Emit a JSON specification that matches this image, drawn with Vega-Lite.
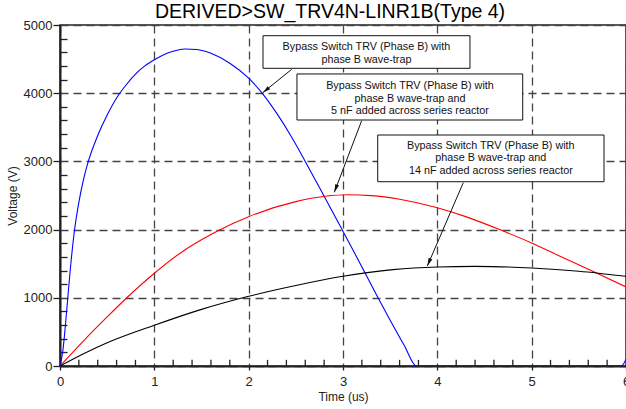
{
  "$schema": "https://vega.github.io/schema/vega-lite/v6.json",
  "autosize": "none",
  "width": 566,
  "height": 341,
  "padding": {"left": 60, "top": 25, "right": 0, "bottom": 43},
  "background": "white",
  "title": {"text": "DERIVED>SW_TRV4N-LINR1B(Type 4)", "font": "Liberation Sans", "fontSize": 19.5, "fontWeight": "normal", "color": "#000", "anchor": "middle", "baseline": "alphabetic", "offset": 6, "dy": 24, "dx": -13},
  "config": {
    "view": {"stroke": "#222", "strokeWidth": 1.5},
    "axis": {"labelFont": "Liberation Sans", "titleFont": "Liberation Sans", "labelFontSize": 13, "titleFontSize": 12, "titleFontWeight": "normal", "labelColor": "#222", "titleColor": "#222", "domainColor": "#222", "domainWidth": 2, "tickColor": "#222", "tickWidth": 1.3, "gridColor": "#444", "gridWidth": 1.3, "gridDash": [8, 5], "labelOverlap": false, "labelFlush": false, "tickCount": 200}
  },
  "datasets": {
    "curves": [
      {"t": 0, "v": 0, "series": "A"}, {"t": 0.03, "v": 220, "series": "A"}, {"t": 0.055, "v": 560, "series": "A"}, {"t": 0.08, "v": 960, "series": "A"}, {"t": 0.11, "v": 1430, "series": "A"}, {"t": 0.15, "v": 1950, "series": "A"}, {"t": 0.2, "v": 2400, "series": "A"}, {"t": 0.25, "v": 2740, "series": "A"}, {"t": 0.3, "v": 3000, "series": "A"}, {"t": 0.4, "v": 3380, "series": "A"}, {"t": 0.5, "v": 3680, "series": "A"}, {"t": 0.6, "v": 3930, "series": "A"}, {"t": 0.7, "v": 4120, "series": "A"}, {"t": 0.8, "v": 4280, "series": "A"}, {"t": 0.9, "v": 4400, "series": "A"}, {"t": 1.0, "v": 4490, "series": "A"}, {"t": 1.1, "v": 4565, "series": "A"}, {"t": 1.2, "v": 4615, "series": "A"}, {"t": 1.32, "v": 4648, "series": "A"}, {"t": 1.45, "v": 4640, "series": "A"}, {"t": 1.6, "v": 4585, "series": "A"}, {"t": 1.8, "v": 4440, "series": "A"}, {"t": 2.0, "v": 4220, "series": "A"}, {"t": 2.14, "v": 4005, "series": "A"}, {"t": 2.3, "v": 3700, "series": "A"}, {"t": 2.45, "v": 3370, "series": "A"}, {"t": 2.6, "v": 3000, "series": "A"}, {"t": 2.8, "v": 2490, "series": "A"}, {"t": 2.99, "v": 2000, "series": "A"}, {"t": 3.1, "v": 1715, "series": "A"}, {"t": 3.23, "v": 1375, "series": "A"}, {"t": 3.37, "v": 1005, "series": "A"}, {"t": 3.5, "v": 670, "series": "A"}, {"t": 3.65, "v": 300, "series": "A"}, {"t": 3.78, "v": 0, "series": "A"}, {"t": 5.95, "v": 0, "series": "A"}, {"t": 6.0, "v": 100, "series": "A"},
      {"t": 0, "v": 0, "series": "B"}, {"t": 0.25, "v": 370, "series": "B"}, {"t": 0.5, "v": 720, "series": "B"}, {"t": 0.7, "v": 990, "series": "B"}, {"t": 1.0, "v": 1360, "series": "B"}, {"t": 1.3, "v": 1680, "series": "B"}, {"t": 1.5, "v": 1850, "series": "B"}, {"t": 1.69, "v": 1995, "series": "B"}, {"t": 2.0, "v": 2190, "series": "B"}, {"t": 2.5, "v": 2410, "series": "B"}, {"t": 2.81, "v": 2488, "series": "B"}, {"t": 3.05, "v": 2510, "series": "B"}, {"t": 3.3, "v": 2498, "series": "B"}, {"t": 3.6, "v": 2445, "series": "B"}, {"t": 4.0, "v": 2320, "series": "B"}, {"t": 4.3, "v": 2190, "series": "B"}, {"t": 4.66, "v": 2000, "series": "B"}, {"t": 5.0, "v": 1804, "series": "B"}, {"t": 5.3, "v": 1610, "series": "B"}, {"t": 5.67, "v": 1374, "series": "B"}, {"t": 6.0, "v": 1160, "series": "B"},
      {"t": 0, "v": 0, "series": "C"}, {"t": 0.25, "v": 180, "series": "C"}, {"t": 0.5, "v": 340, "series": "C"}, {"t": 1.0, "v": 597, "series": "C"}, {"t": 1.5, "v": 830, "series": "C"}, {"t": 2.0, "v": 1022, "series": "C"}, {"t": 2.5, "v": 1180, "series": "C"}, {"t": 3.0, "v": 1315, "series": "C"}, {"t": 3.53, "v": 1413, "series": "C"}, {"t": 4.0, "v": 1452, "series": "C"}, {"t": 4.4, "v": 1461, "series": "C"}, {"t": 5.0, "v": 1437, "series": "C"}, {"t": 5.5, "v": 1390, "series": "C"}, {"t": 6.0, "v": 1315, "series": "C"}
    ],
    "xminor": [
      {"t": 0.2}, {"t": 0.4}, {"t": 0.6}, {"t": 0.8}, {"t": 1.2}, {"t": 1.4}, {"t": 1.6}, {"t": 1.8}, {"t": 2.2}, {"t": 2.4}, {"t": 2.6}, {"t": 2.8}, {"t": 3.2}, {"t": 3.4}, {"t": 3.6}, {"t": 3.8}, {"t": 4.2}, {"t": 4.4}, {"t": 4.6}, {"t": 4.8}, {"t": 5.2}, {"t": 5.4}, {"t": 5.6}, {"t": 5.8}
    ],
    "boxes": [
      {"x1": 2.152, "x2": 4.346, "y1": 4843, "y2": 4365},
      {"x1": 2.512, "x2": 4.905, "y1": 4282, "y2": 3607},
      {"x1": 3.368, "x2": 5.767, "y1": 3387, "y2": 2702}
    ],
    "notes": [
      {"t": 3.248, "v": 4682, "text": "Bypass Switch TRV (Phase B) with"},
      {"t": 3.248, "v": 4487, "text": "phase B wave-trap"},
      {"t": 3.71, "v": 4110, "text": "Bypass Switch TRV (Phase B) with"},
      {"t": 3.71, "v": 3919, "text": "phase B wave-trap and"},
      {"t": 3.71, "v": 3739, "text": "5 nF added across series reactor"},
      {"t": 4.567, "v": 3230, "text": "Bypass Switch TRV (Phase B) with"},
      {"t": 4.567, "v": 3045, "text": "phase B wave-trap and"},
      {"t": 4.567, "v": 2859, "text": "14 nF added across series reactor"}
    ],
    "arrows": [
      {"id": 1, "t1": 2.456, "v1": 4350, "t2": 2.149, "v2": 4007},
      {"id": 2, "t1": 3.198, "v1": 3597, "t2": 2.908, "v2": 2547},
      {"id": 3, "t1": 4.275, "v1": 2688, "t2": 3.894, "v2": 1466}
    ]
  },
  "layer": [
    {
      "data": {"name": "curves"},
      "mark": {"type": "line", "interpolate": "monotone", "strokeWidth": 1.1, "clip": true},
      "encoding": {
        "x": {"field": "t", "type": "quantitative", "title": "Time (us)",
          "scale": {"domain": [0, 6], "nice": false},
          "axis": {"values": [0, 1, 2, 3, 4, 5, 6], "format": "d", "tickSize": 4,
            "grid": true, "labelPadding": 5, "titlePadding": 3}},
        "y": {"field": "v", "type": "quantitative", "title": "Voltage (V)",
          "scale": {"domain": [0, 5000], "nice": false},
          "axis": {"values": [0, 200, 400, 600, 800, 1000, 1200, 1400, 1600, 1800, 2000, 2200, 2400, 2600, 2800, 3000, 3200, 3400, 3600, 3800, 4000, 4200, 4400, 4600, 4800, 5000],
            "tickCount": 200,
            "labelExpr": "datum.value % 1000 === 0 ? datum.label : ''", "format": "d",
            "tickSize": {"condition": {"test": "datum.value % 1000 === 0", "value": 7}, "value": -7},
            "gridOpacity": {"condition": {"test": "datum.value % 1000 === 0", "value": 1}, "value": 0},
            "grid": true, "labelPadding": 1, "titlePadding": 4}},
        "color": {"field": "series", "type": "nominal", "legend": null,
          "scale": {"domain": ["A", "B", "C"], "range": ["#0000ff", "#ff0000", "#000000"]}}
      }
    },
    {
      "data": {"name": "xminor"},
      "mark": {"type": "rule", "color": "#222", "strokeWidth": 1.3},
      "encoding": {
        "x": {"field": "t", "type": "quantitative"},
        "y": {"datum": 0, "type": "quantitative"},
        "y2": {"datum": 90}
      }
    },
    {
      "data": {"name": "boxes"},
      "mark": {"type": "rect", "fill": "white", "stroke": "#111", "strokeWidth": 1},
      "encoding": {
        "x": {"field": "x1", "type": "quantitative"},
        "x2": {"field": "x2"},
        "y": {"field": "y1", "type": "quantitative"},
        "y2": {"field": "y2"}
      }
    },
    {
      "data": {"name": "notes"},
      "mark": {"type": "text", "font": "Liberation Sans", "fontSize": 10.8, "color": "#111", "align": "center", "baseline": "middle"},
      "encoding": {
        "x": {"field": "t", "type": "quantitative"},
        "y": {"field": "v", "type": "quantitative"},
        "text": {"field": "text"}
      }
    },
    {
      "data": {"name": "arrows"},
      "mark": {"type": "rule", "color": "#111", "strokeWidth": 1},
      "encoding": {
        "x": {"field": "t1", "type": "quantitative"},
        "y": {"field": "v1", "type": "quantitative"},
        "x2": {"field": "t2"},
        "y2": {"field": "v2"}
      }
    },
    {
      "data": {"name": "arrows"},
      "transform": [{"filter": "datum.id === 1"}],
      "mark": {"type": "point", "shape": "M0,0L-0.5,2L0.5,2Z", "size": 64, "filled": true, "color": "#111", "opacity": 1, "angle": 231},
      "encoding": {"x": {"field": "t2", "type": "quantitative"}, "y": {"field": "v2", "type": "quantitative"}}
    },
    {
      "data": {"name": "arrows"},
      "transform": [{"filter": "datum.id === 2"}],
      "mark": {"type": "point", "shape": "M0,0L-0.5,2L0.5,2Z", "size": 64, "filled": true, "color": "#111", "opacity": 1, "angle": 201},
      "encoding": {"x": {"field": "t2", "type": "quantitative"}, "y": {"field": "v2", "type": "quantitative"}}
    },
    {
      "data": {"name": "arrows"},
      "transform": [{"filter": "datum.id === 3"}],
      "mark": {"type": "point", "shape": "M0,0L-0.5,2L0.5,2Z", "size": 64, "filled": true, "color": "#111", "opacity": 1, "angle": 203},
      "encoding": {"x": {"field": "t2", "type": "quantitative"}, "y": {"field": "v2", "type": "quantitative"}}
    }
  ]
}
